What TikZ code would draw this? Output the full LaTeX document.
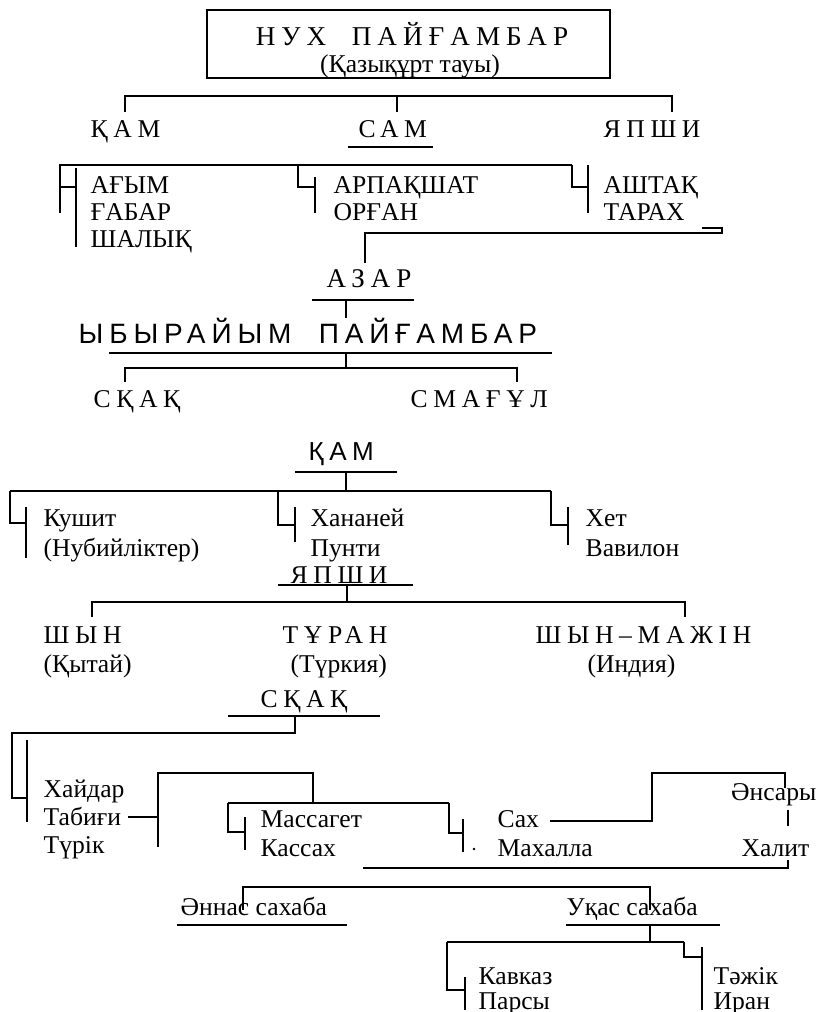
\documentclass[tikz,border=0pt]{standalone}
\usepackage{fontspec}
\setmainfont{Liberation Serif}
\newfontfamily\spaced[LetterSpace=22]{Liberation Serif}
\newfontfamily\spacedsans[LetterSpace=21]{Liberation Sans}
\usepackage{tikz}

\begin{document}
\begin{tikzpicture}[x=0.5pt, y=-0.5pt, line width=0.7pt,
    every node/.style={inner sep=0pt, anchor=base west},
    caps/.style={font=\fontsize{12.8}{14}\spaced},
    capsans/.style={font=\fontsize{13}{15}\spacedsans},
    entry/.style={font=\fontsize{12.8}{14}\selectfont}]

    \useasboundingbox (0,0) rectangle (819,1012);

    % Nuh
    \draw (207,10) rectangle (610,78);
    \node[caps, font=\fontsize{13.6}{15}\spaced, anchor=base] (nuh) at (412,45) {НУХ\ \ ПАЙҒАМБАР};
    \node[entry, anchor=base] (kazygurt) at (410,72) {(Қазықұрт тауы)};

    \draw (125,112) -- (125,96) -- (672,96) -- (672,112);
    \draw (397,96) -- (397,112);
    \node[caps] (ham) at (90,137) {ҚАМ};
    \node[caps] (sam) at (358,137) {САМ};
    \node[caps] (yapshi) at (603,137) {ЯПШИ};
    \draw (348,147) -- (433,147);

    % sons
    \draw (60,213) -- (60,165) -- (572,165);
    \draw (60,187) -- (76,187);
    \draw (76,168) -- (76,247);
    \node[entry] (agym) at (90,193) {АҒЫМ};
    \node[entry] (gabar) at (90,220) {ҒАБАР};
    \node[entry] (shalyk) at (90,247) {ШАЛЫҚ};

    \draw (298,165) -- (298,187) -- (315,187);
    \draw (315,177) -- (315,213);
    \node[entry] (arpakshat) at (333,193) {АРПАҚШАТ};
    \node[entry] (organ) at (333,220) {ОРҒАН};

    \draw (572,165) -- (572,187) -- (588,187);
    \draw (588,165) -- (588,213);
    \node[entry] (ashtak) at (603,193) {АШТАҚ};
    \node[entry] (tarah) at (603,220) {ТАРАХ};

    \draw (702,228) -- (722,228) -- (722,233) -- (365,233) -- (365,263);

    % Azar, Ibrahim
    \node[caps, font=\fontsize{13.5}{15}\spaced] (azar) at (326,287) {АЗАР};
    \draw (312,300) -- (414,300);
    \draw (346,300) -- (346,318);
    \node[capsans, font=\fontsize{14}{16}\spacedsans] (ybyraiym) at (78,343) {ЫБЫРАЙЫМ\ \ ПАЙҒАМБАР};
    \draw (109,353) -- (552,353);
    \draw (346,353) -- (346,368);
    \draw (125,382) -- (125,368) -- (517,368) -- (517,382);
    \node[caps] (skak) at (93,407) {СҚАҚ};
    \node[caps] (smagul) at (410,407) {СМАҒҰЛ};

    % Ham
    \node[capsans] (hamb) at (308,460) {ҚАМ};
    \draw (295,472) -- (397,472);
    \draw (346,472) -- (346,491);
    \draw (10,491) -- (551,491);
    \draw (10,491) -- (10,523) -- (26,523);
    \draw (26,507) -- (26,558);
    \node[entry] (kushit) at (43,526) {Кушит};
    \node[entry] (nubiy) at (43,556) {(Нубийліктер)};
    \draw (278,491) -- (278,525) -- (295,525);
    \draw (295,507) -- (295,542);
    \node[entry] (hananey) at (310,526) {Хананей};
    \node[entry] (punti) at (310,556) {Пунти};
    \draw (551,491) -- (551,525) -- (568,525);
    \draw (568,507) -- (568,545);
    \node[entry] (het) at (585,526) {Хет};
    \node[entry] (vavilon) at (585,556) {Вавилон};

    % Yapshi
    \node[caps] (yapshib) at (290,583) {ЯПШИ};
    \draw (278,585) -- (413,585);
    \draw (347,585) -- (347,602);
    \draw (92,617) -- (92,602) -- (685,602) -- (685,617);
    \node[caps] (shyn) at (43,643) {ШЫН};
    \node[caps] (turan) at (282,643) {ТҰРАН};
    \node[caps] (shynmazhin) at (535,643) {ШЫН–МАЖІН};
    \node[entry] (kytai) at (43,672) {(Қытай)};
    \node[entry] (turkiya) at (290,672) {(Түркия)};
    \node[entry] (indiya) at (587,672) {(Индия)};

    % Skak
    \node[caps] (skakb) at (260,707) {СҚАҚ};
    \draw (228,716) -- (380,716);
    \draw (295,716) -- (295,733) -- (12,733) -- (12,798) -- (27,798);
    \draw (27,740) -- (27,822);
    \node[entry] (haidar) at (43,797) {Хайдар};
    \node[entry] (tabigi) at (43,825) {Табиғи};
    \node[entry] (turik) at (43,853) {Түрік};
    \draw (128,817) -- (158,817);
    \draw (158,847) -- (158,773) -- (313,773) -- (313,803);
    \draw (228,803) -- (449,803);
    \draw (228,803) -- (228,832) -- (245,832);
    \draw (245,817) -- (245,850);
    \node[entry] (massaget) at (260,827) {Массагет};
    \node[entry] (kassah) at (260,856) {Кассах};
    \draw (449,803) -- (449,833) -- (463,833);
    \draw (463,819) -- (463,852);
    \fill (474,849) circle (1.3);
    \node[entry] (sah) at (497,827) {Сах};
    \node[entry] (mahalla) at (497,856) {Махалла};
    \draw (550,821) -- (652,821) -- (652,773) -- (785,773) -- (785,788);
    \node[entry, anchor=base east] (ansary) at (817,800) {Әнсары};
    \draw (788,810) -- (788,826);
    \node[entry, anchor=base east] (halit) at (810,856) {Халит};
    \draw (788,860) -- (788,868) -- (363,868);

    % sahaba
    \draw (243,910) -- (243,887) -- (650,887) -- (650,910);
    \node[entry] (annas) at (180,915) {Әннас сахаба};
    \draw (177,925) -- (347,925);
    \node[entry] (ukas) at (566,915) {Уқас сахаба};
    \draw (566,925) -- (720,925);
    \draw (650,925) -- (650,942);
    \draw (447,942) -- (684,942);
    \draw (447,942) -- (447,990) -- (465,990);
    \draw (465,977) -- (465,1010);
    \node[entry] (kavkaz) at (478,984) {Кавказ};
    \node[entry] (parsy) at (478,1009) {Парсы};
    \draw (684,942) -- (684,957) -- (702,957);
    \draw (702,947) -- (702,1010);
    \node[entry] (tazhik) at (713,984) {Тәжік};
    \node[entry] (iran) at (713,1009) {Иран};
\end{tikzpicture}
\end{document}
